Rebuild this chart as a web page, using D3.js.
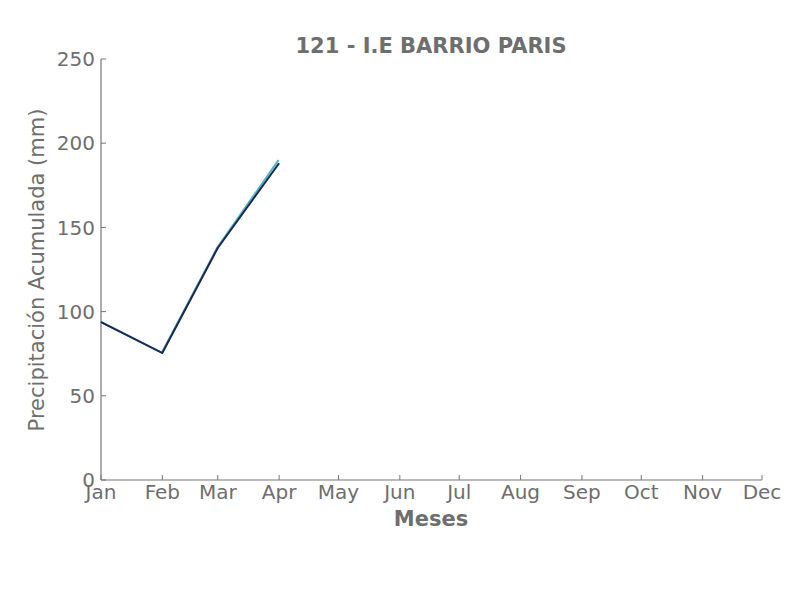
<!DOCTYPE html>
<html><head><meta charset="utf-8">
<script src="https://cdn.jsdelivr.net/npm/d3@7"></script>
<style>body{margin:0;background:#fff;} text{font-family:"DejaVu Sans",sans-serif;}</style>
</head><body>
<svg id="c" width="806" height="600"></svg>
<script>
const title = "121 - I.E BARRIO PARIS";
const monthLabels = ["Jan","Feb","Mar","Apr","May","Jun","Jul","Aug","Sep","Oct","Nov","Dec"];
const yTicks = [0,50,100,150,200,250];
const dates = ["2021-01-01","2021-02-01","2021-03-01","2021-04-01"];
const seriesLight = [93.8, 75.4, 137.6, 189.7];
const seriesDark = [93.8, 75.4, 137.8, 188.1];

const svg = d3.select("#c");
const parse = d3.utcParse("%Y-%m-%d");
const x = d3.scaleUtc().domain([parse("2021-01-01"), parse("2021-12-01")]).range([101, 762]);
const y = d3.scaleLinear().domain([0, 250]).range([480, 59]);
const gray = "#6e6e6e";
const axisColor = "#777";

svg.append("rect").attr("width",806).attr("height",600).attr("fill","#fff");

svg.append("line").attr("x1",101).attr("x2",101).attr("y1",y(250)).attr("y2",y(0)).attr("stroke",axisColor).attr("stroke-width",1.2);
svg.append("line").attr("x1",101).attr("x2",762).attr("y1",y(0)).attr("y2",y(0)).attr("stroke",axisColor).attr("stroke-width",1.2);

const monthDates = d3.utcMonths(parse("2021-01-01"), parse("2021-12-02"));
monthDates.forEach((d,i)=>{
  svg.append("line").attr("x1",x(d)).attr("x2",x(d)).attr("y1",480).attr("y2",475).attr("stroke",axisColor);
  svg.append("text").attr("x",x(d)).attr("y",499).attr("text-anchor","middle").attr("font-size",20).attr("fill",gray).text(monthLabels[i]);
});
yTicks.forEach(t=>{
  svg.append("line").attr("x1",101).attr("x2",106).attr("y1",y(t)).attr("y2",y(t)).attr("stroke",axisColor);
  svg.append("text").attr("x",95).attr("y",y(t)).attr("dy","0.36em").attr("text-anchor","end").attr("font-size",20).attr("fill",gray).text(t);
});

const line = d3.line().x((d,i)=>x(parse(dates[i]))).y(d=>y(d));
svg.append("path").attr("d",line(seriesLight)).attr("fill","none").attr("stroke","#4fb3c9").attr("stroke-width",2).attr("transform","translate(-0.6,-0.4)");
svg.append("path").attr("d",line(seriesDark)).attr("fill","none").attr("stroke","#1c2750").attr("stroke-width",2);

svg.append("text").attr("x",431).attr("y",53).attr("text-anchor","middle").attr("font-size",21).attr("font-weight","bold").attr("fill",gray).text(title);
svg.append("text").attr("x",431).attr("y",526).attr("text-anchor","middle").attr("font-size",21).attr("font-weight","bold").attr("fill",gray).text("Meses");
svg.append("text").attr("transform","translate(44,270) rotate(-90)").attr("text-anchor","middle").attr("font-size",21).attr("fill",gray).text("Precipitación Acumulada (mm)");
</script>
</body></html>
